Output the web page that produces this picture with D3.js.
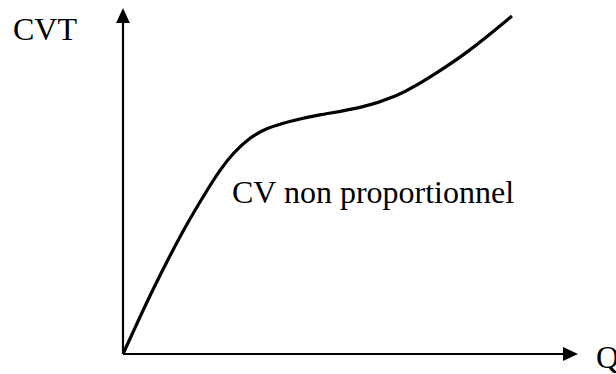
<!DOCTYPE html>
<html>
<head>
<meta charset="utf-8">
<script src="https://cdn.jsdelivr.net/npm/d3@7"></script>
<style>
  body { margin: 0; background: #fff; }
  text { font-family: "Liberation Serif", "Times New Roman", serif; font-size: 32px; fill: #000; }
</style>
</head>
<body>
<div id="chart"></div>
<script>
// curve points (Q on 0-100, CVT on 0-100)
const qValues   = [0, 3.9, 6.8, 10.7, 14.5, 19.1, 22.0, 25.0, 28.9, 32.7, 37.3, 44.1, 54.5, 62.5, 66.8, 70.5, 78.2, 88.4];
const cvtValues = [0, 10.8, 18.6, 28.4, 37.5, 47.2, 53.0, 57.9, 62.5, 65.1, 66.9, 68.9, 70.9, 74.4, 77.5, 80.4, 86.7, 97.4];
const xLabel = 'Q';
const yLabel = 'CVT';
const curveLabel = 'CV non proportionnel';

const width = 616;
const height = 374;
const origin = { x: 123, y: 354 };

const svg = d3.select('#chart').append('svg')
    .attr('width', width)
    .attr('height', height);

const x = d3.scaleLinear().domain([0, 100]).range([origin.x, 563]);
const y = d3.scaleLinear().domain([0, 100]).range([origin.y, 7]);

// arrowheads
const defs = svg.append('defs');
defs.append('marker')
    .attr('id', 'arrow')
    .attr('viewBox', '0 0 10 10')
    .attr('refX', 0).attr('refY', 5)
    .attr('markerUnits', 'userSpaceOnUse')
    .attr('markerWidth', 15).attr('markerHeight', 15)
    .attr('orient', 'auto')
    .append('path')
    .attr('d', 'M0,0.4 L10,5 L0,9.6 Z')
    .attr('fill', '#000');

// axes
svg.append('line')
    .attr('x1', x(0)).attr('y1', y(0))
    .attr('x2', x(0)).attr('y2', y(100) + 16)
    .attr('stroke', '#000').attr('stroke-width', 2.2)
    .attr('marker-end', 'url(#arrow)');

svg.append('line')
    .attr('x1', x(0)).attr('y1', y(0))
    .attr('x2', x(100)).attr('y2', y(0))
    .attr('stroke', '#000').attr('stroke-width', 2.2)
    .attr('marker-end', 'url(#arrow)');

// the cost curve
const line = d3.line()
    .x((d, i) => x(qValues[i]))
    .y((d, i) => y(cvtValues[i]))
    .curve(d3.curveBasis);

svg.append('path')
    .datum(qValues)
    .attr('d', line)
    .attr('fill', 'none')
    .attr('stroke', '#000')
    .attr('stroke-width', 3.2);

// labels
svg.append('text').attr('x', 13).attr('y', 40).text(yLabel);
svg.append('text').attr('x', 596).attr('y', 368).text(xLabel);
svg.append('text').attr('x', 232).attr('y', 203).text(curveLabel);
</script>
</body>
</html>
